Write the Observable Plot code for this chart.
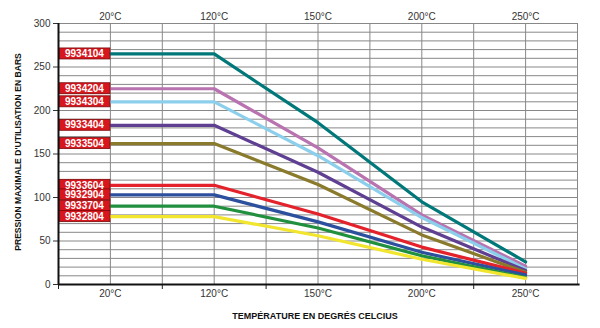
<!DOCTYPE html>
<html><head><meta charset="utf-8">
<script src="https://cdn.jsdelivr.net/npm/d3@7"></script>
<script src="https://cdn.jsdelivr.net/npm/@observablehq/plot@0.6"></script>
<style>body{margin:0;background:#fff}</style>
</head><body><div id="chart"></div>
<script>
const temps = ["20°C", "120°C", "150°C", "200°C", "250°C"];
const refs = ["9934104", "9934204", "9934304", "9933404", "9933504", "9933604", "9932904", "9933704", "9932804"];
const colors = ["#00787a", "#b873b0", "#8ccfec", "#5e3f92", "#8a7a2c", "#e3222b", "#2d509e", "#20903f", "#f2e52e"];
const s9934104 = [265, 265, 186, 95, 26];
const s9934204 = [225, 225, 157, 80, 21];
const s9934304 = [210, 210, 148, 77, 18];
const s9933404 = [183, 183, 129, 66, 16];
const s9933504 = [162, 162, 115, 57, 14];
const s9933604 = [114, 114, 81, 43, 13];
const s9932904 = [103, 103, 72, 37, 11];
const s9933704 = [90, 90, 65, 33, 8];
const s9932804 = [78, 78, 56, 29, 7];
const yTicks = [0, 50, 100, 150, 200, 250, 300];
const yTitle = "PRESSION MAXIMALE D'UTILISATION EN BARS";
const xTitle = "TEMPÉRATURE EN DEGRÉS CELCIUS";

const seriesVals = [s9934104, s9934204, s9934304, s9933404, s9933504, s9933604, s9932904, s9933704, s9932804];
const pts = [];
seriesVals.forEach((vals, si) => vals.forEach((v, i) => pts.push({ref: refs[si], xi: 2 * i + 1, v})));
const labels = refs.map((r, si) => ({ref: r, v: seriesVals[si][0]}));
const tickPos = temps.map((t, i) => 2 * i + 1);

const chart = Plot.plot({
  width: 600, height: 328,
  marginLeft: 58, marginRight: 23, marginTop: 23, marginBottom: 44,
  style: {fontFamily: "'Liberation Sans', Arial, sans-serif", fontSize: "10px", color: "#333"},
  x: {domain: [0, 10]},
  y: {domain: [0, 300]},
  color: {domain: refs, range: colors},
  marks: [
    Plot.gridY({interval: 10, stroke: "#888", strokeOpacity: 1, strokeWidth: 1}),
    Plot.gridX({interval: 1, stroke: "#888", strokeOpacity: 1, strokeWidth: 1}),
    Plot.axisY({ticks: yTicks, tickSize: 5, tickPadding: 3, label: null, stroke: "#333", fontSize: 10}),
    Plot.axisX({anchor: "top", ticks: tickPos, tickSize: 0, tickPadding: 4, tickFormat: d => temps[(d - 1) / 2], label: null, fontSize: 10}),
    Plot.axisX({anchor: "bottom", ticks: tickPos, tickSize: 0, tickPadding: 5, tickFormat: d => temps[(d - 1) / 2], label: null, fontSize: 10}),
    Plot.axisX({anchor: "bottom", ticks: [0, 2, 4, 6, 8], tickSize: 5, tickFormat: () => "", label: null, stroke: "#222"}),
    Plot.line(pts, {x: "xi", y: "v", z: "ref", stroke: "ref", strokeWidth: 3.2}),
    Plot.rect(labels, {x1: 0, x2: 1, y1: "v", y2: "v", insetTop: -5.5, insetBottom: -5.5, insetLeft: 1, fill: "#d8161e", stroke: "#7a0a0a", strokeWidth: 0.8}),
    Plot.text(labels, {x: 0.5, y: "v", text: "ref", fill: "white", fontWeight: "bold", fontSize: 10}),
    Plot.ruleX([0], {stroke: "#111", strokeWidth: 2}),
    Plot.ruleY([0], {stroke: "#111", strokeWidth: 2, x1: 0, x2: 10.05}),
    Plot.text([yTitle], {frameAnchor: "left", textAnchor: "middle", rotate: -90, dx: -40, dy: -2, fontWeight: "bold", fontSize: 8.6, fill: "#111"}),
    Plot.text([xTitle], {frameAnchor: "bottom", dy: 34, dx: -3, fontWeight: "bold", fontSize: 9, fill: "#111"})
  ]
});
document.getElementById("chart").append(chart);
</script>
</body></html>
